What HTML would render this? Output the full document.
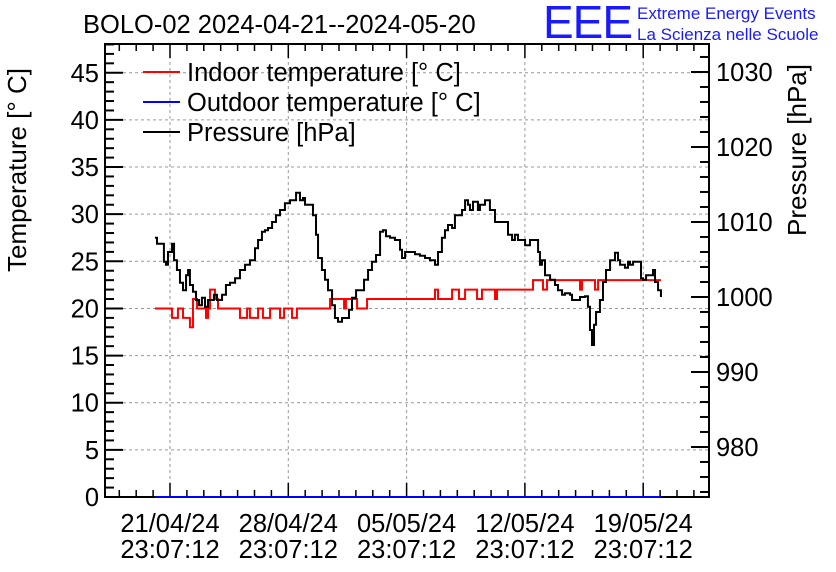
<!DOCTYPE html>
<html><head><meta charset="utf-8"><style>
html,body{margin:0;padding:0;background:#fff;}
svg{display:block;font-family:"Liberation Sans",sans-serif;}
</style></head><body>
<svg id="chart" width="836" height="572" viewBox="0 0 836 572" xmlns="http://www.w3.org/2000/svg">
<text x="83" y="33" font-size="25.5">BOLO-02 2024-04-21--2024-05-20</text>
<text x="543" y="38" font-size="46" fill="#1a1aff" letter-spacing="-1">EEE</text>
<text x="637" y="19" font-size="17" fill="#1a1aff">Extreme Energy Events</text>
<text x="637" y="40" font-size="17" fill="#1a1aff">La Scienza nelle Scuole</text>
<g id="grid"></g>
<g id="axes"></g>
<g id="series"></g>
<text transform="translate(26,272) rotate(-90)" font-size="26">Temperature [° C]</text>
<text transform="translate(806,236) rotate(-90)" font-size="26">Pressure [hPa]</text>
<g>
 <line x1="143" y1="72" x2="180" y2="72" stroke="#f00" stroke-width="2"/>
 <text x="187" y="81" font-size="25.5">Indoor temperature [° C]</text>
 <line x1="143" y1="102" x2="180" y2="102" stroke="#00f" stroke-width="2"/>
 <text x="187" y="111" font-size="25.5">Outdoor temperature [° C]</text>
 <line x1="143" y1="132" x2="180" y2="132" stroke="#000" stroke-width="2"/>
 <text x="187" y="141" font-size="25.5">Pressure [hPa]</text>
</g>
</svg>
<script>
const xTickDays=[0,7,14,21,28];
const xTickDates=["21/04/24","28/04/24","05/05/24","12/05/24","19/05/24"];
const xTickTimes=["23:07:12","23:07:12","23:07:12","23:07:12","23:07:12"];
const tempTicks=[0,5,10,15,20,25,30,35,40,45];
const presTicks=[980,990,1000,1010,1020,1030];
const pDays=[-0.89,-0.77,-0.47,-0.36,-0.24,-0.12,0.12,0.24,0.41,0.59,0.77,0.95,1.07,1.18,1.36,1.54,1.72,1.89,2.07,2.25,2.43,2.60,2.78,3.08,3.31,3.55,3.85,4.14,4.44,4.73,5.03,5.21,5.44,5.62,5.80,6.04,6.27,6.51,6.80,7.10,7.28,7.46,7.69,7.87,7.99,8.28,8.46,8.64,8.76,8.99,9.17,9.35,9.59,9.76,9.94,10.18,10.36,10.59,10.77,11.01,11.24,11.48,11.72,11.95,12.19,12.43,12.60,12.78,13.02,13.31,13.61,13.73,13.91,14.20,14.50,14.79,15.09,15.38,15.68,15.86,16.09,16.27,16.45,16.69,16.86,17.04,17.28,17.46,17.63,17.75,17.93,18.22,18.34,18.64,18.93,19.23,19.53,19.82,20.00,20.24,20.41,20.59,20.83,21.01,21.30,21.60,21.78,21.89,22.01,22.19,22.49,22.78,22.96,23.20,23.37,23.67,23.79,23.96,24.26,24.56,24.73,24.85,24.97,25.09,25.21,25.44,25.62,25.80,26.04,26.33,26.51,26.63,26.92,27.10,27.22,27.40,27.57,27.87,27.99,28.17,28.46,28.58,28.70,28.88,29.05];
const pValues=[1007.9,1007.1,1007.1,1004.7,1004.3,1006.0,1007.1,1004.9,1003.6,1001.9,1000.9,1002.9,1003.6,1001.6,1000.7,999.6,998.9,999.9,998.7,999.6,999.6,1000.3,999.6,1000.3,1001.6,1001.9,1002.5,1003.6,1004.3,1004.9,1006.5,1007.6,1008.7,1008.9,1009.2,1010.0,1010.9,1011.6,1012.5,1012.9,1012.9,1013.9,1012.9,1013.2,1012.3,1012.3,1010.9,1008.3,1005.2,1003.6,1002.3,1000.9,998.9,997.2,996.7,997.2,997.2,998.3,999.9,1000.9,1000.9,1002.3,1003.6,1004.7,1005.6,1008.7,1008.9,1008.1,1007.9,1007.6,1006.3,1005.2,1006.0,1006.0,1005.7,1005.5,1005.2,1004.9,1004.3,1006.0,1007.9,1008.9,1009.6,1009.2,1010.9,1010.9,1011.6,1012.9,1012.3,1011.6,1012.7,1011.6,1012.3,1012.9,1011.6,1010.0,1010.0,1010.0,1008.3,1007.6,1008.3,1007.6,1007.6,1006.9,1007.6,1007.6,1006.0,1004.3,1004.9,1002.9,1002.3,1001.6,1000.9,1000.3,1000.5,1000.3,999.6,999.6,1000.0,1000.1,998.7,995.6,993.6,996.3,998.0,999.6,1002.0,1003.6,1004.9,1005.9,1004.9,1004.3,1003.9,1004.7,1004.3,1004.7,1004.7,1002.5,1002.3,1002.9,1002.9,1003.6,1002.0,1000.9,1000.0];
const tDays=[-0.89,0.12,0.47,0.77,1.18,1.36,1.60,2.13,2.25,2.37,2.66,2.84,4.14,4.56,4.73,5.21,5.50,5.92,6.51,6.75,7.22,7.51,9.47,10.30,10.41,11.07,11.66,15.68,15.86,16.69,17.10,17.46,18.17,18.46,19.23,19.35,21.48,22.07,22.31,24.26,24.38,25.15,25.33,29.05];
const tValues=[20,19,20,19,18,21,20,19,20,22,21,20,19,20,19,20,19,20,19,20,19,20,21,20,21,20,21,22,21,22,21,22,21,22,21,22,23,22,23,22,23,22,23,23];
const outDays=[-0.89,29.05];
const outValues=[0,0];

const L=105,R=709,T=44,B=497;
const xs=d=>170+d*16.9;
const yT=v=>B-v*(B-T)/48.05;
const yP=p=>B-(p-973.33)*7.5;
const NS="http://www.w3.org/2000/svg";
function mk(tag,attrs,parent){const e=document.createElementNS(NS,tag);for(const k in attrs)e.setAttribute(k,attrs[k]);parent.appendChild(e);return e;}
const grid=document.getElementById('grid'),axes=document.getElementById('axes'),series=document.getElementById('series');
xTickDays.forEach(d=>{const g=mk('line',{x1:xs(d),x2:xs(d),y1:T,y2:B,stroke:'#999','stroke-dasharray':'3,3','stroke-width':1},grid);});
tempTicks.forEach(v=>{const g=mk('line',{x1:L,x2:R,y1:yT(v),y2:yT(v),stroke:'#999','stroke-dasharray':'3,3','stroke-width':1},grid);});
function stepPath(ds,vs,yf){let s=`M${xs(ds[0])},${yf(vs[0])}`;for(let i=1;i<ds.length;i++){s+=` H${xs(ds[i])} V${yf(vs[i])}`;}return s;}
// frame & ticks
const fr=mk('rect',{x:L,y:T,width:R-L,height:B-T,fill:'none',stroke:'#000','stroke-width':2},axes);


for(let v=0;v<=48;v++){const big=v%5===0;mk('line',{x1:L,x2:L+(big?18:9),y1:yT(v),y2:yT(v),stroke:'#000','stroke-width':2},axes);}
tempTicks.forEach(v=>{const t=mk('text',{x:99,y:yT(v)+9,'font-size':25.5,'text-anchor':'end'},axes);t.textContent=v;});
for(let p=974;p<=1033;p+=2){const big=p%10===0;mk('line',{x1:R,x2:R-(big?18:9),y1:yP(p),y2:yP(p),stroke:'#000','stroke-width':2},axes);}
presTicks.forEach(p=>{const t=mk('text',{x:716,y:yP(p)+9,'font-size':25.5},axes);t.textContent=p;});
for(let d=-3;d<=31;d++){const x=xs(d);if(x<L||x>R)continue;const big=(d%7===0);mk('line',{x1:x,x2:x,y1:B,y2:B-(big?14:7),stroke:'#000','stroke-width':1.5},axes);mk('line',{x1:x,x2:x,y1:T,y2:T+(big?14:7),stroke:'#000','stroke-width':1.5},axes);}
xTickDays.forEach((d,i)=>{const t=mk('text',{x:xs(d),y:532,'font-size':25.5,'text-anchor':'middle'},axes);t.textContent=xTickDates[i];
const t2=mk('text',{x:xs(d),y:558,'font-size':25.5,'text-anchor':'middle'},axes);t2.textContent=xTickTimes[i];});
// series (on top of frame)
const outP=mk('path',{d:stepPath(outDays,outValues,yT),fill:'none',stroke:'#00f','stroke-width':2},series);


const inP=mk('path',{d:stepPath(tDays,tValues,yT),fill:'none',stroke:'#f00','stroke-width':2},series);


const pP=mk('path',{d:stepPath(pDays,pValues,yP),fill:'none',stroke:'#000','stroke-width':2},series);


</script>
</body></html>
